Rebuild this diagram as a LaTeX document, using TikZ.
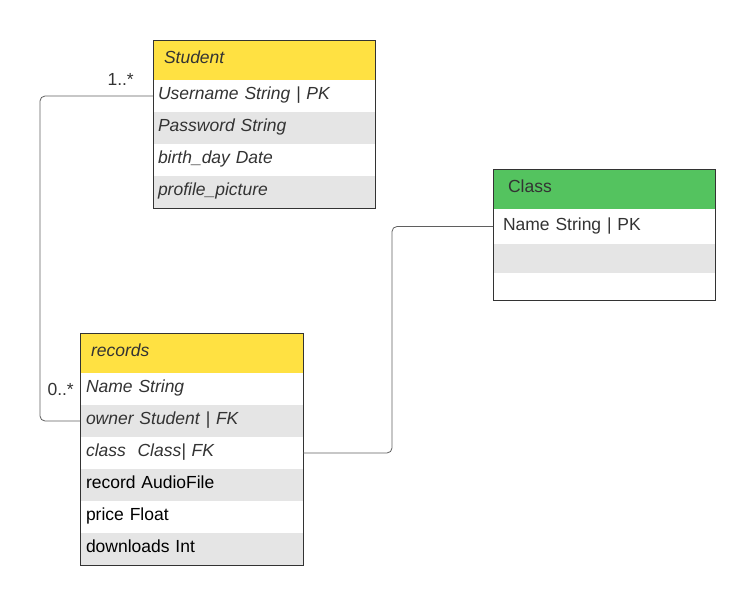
\documentclass[tikz,border=0pt]{standalone}
\usepackage{fontspec}
\setmainfont{Liberation Sans}
\usepackage{tikz}
\usetikzlibrary{positioning}
\definecolor{headyellow}{RGB}{255,225,66}
\definecolor{headgreen}{RGB}{84,195,95}
\definecolor{rowgray}{RGB}{229,229,229}
\definecolor{textdark}{RGB}{51,51,51}
\definecolor{linegray}{RGB}{95,95,95}

\begin{document}
\begin{tikzpicture}[
  x=1pt, y=1pt, node distance=0pt,
  tfont/.style={font=\fontsize{17.5pt}{21pt}\selectfont},
  field/.style={tfont, rectangle, minimum height=32pt, inner ysep=0pt, inner xsep=5pt, outer sep=0pt,
               text width=212pt, text height=12pt, text depth=5pt, align=left, text=textdark},
  cfield/.style={field, inner xsep=10pt, text width=202pt},
  head/.style={field, draw=textdark, line width=0.9pt, minimum height=40pt, anchor=north west},
  frame/.style={draw=textdark, line width=0.9pt},
  mult/.style={tfont, inner sep=0pt, text=textdark},
  link/.style={draw=linegray, line width=0.8pt, rounded corners=5pt}
]
\useasboundingbox (0,0) rectangle (755,-605);

% Student
\node[head, fill=headyellow, inner xsep=11pt, text width=200pt] (sh) at (153,-40) {\itshape Student};
\node[field, fill=white, below=of sh] (s1) {\itshape Username String | PK};
\node[field, fill=rowgray, below=of s1] (s2) {\itshape Password String};
\node[field, fill=white, below=of s2] (s3) {\itshape birth\_day Date};
\node[field, fill=rowgray, below=of s3] (s4) {\itshape profile\_picture};
\draw[frame] (sh.north west) rectangle (s4.south east);

% Class
\node[head, fill=headgreen, inner xsep=15pt, text width=192pt] (ch) at (493,-169) {Class};
\node[cfield, fill=white, minimum height=35pt, below=of ch] (c1) {Name String | PK};
\node[cfield, fill=rowgray, minimum height=29pt, below=of c1] (c2) {};
\node[cfield, fill=white, minimum height=27pt, below=of c2] (c3) {};
\draw[frame] (ch.north west) rectangle (c3.south east);

% records
\node[head, fill=headyellow, inner xsep=11pt, text width=201pt] (rh) at (80,-333) {\itshape records};
\node[field, fill=white, inner xsep=6pt, text width=211pt, below=of rh] (r1) {\itshape Name String};
\node[field, fill=rowgray, inner xsep=6pt, text width=211pt, below=of r1] (r2) {\itshape owner Student | FK};
\node[field, fill=white, inner xsep=6pt, text width=211pt, below=of r2] (r3) {\itshape class\ \ Class| FK};
\node[field, fill=rowgray, inner xsep=6pt, text width=211pt, text=black, below=of r3] (r4) {record AudioFile};
\node[field, fill=white, inner xsep=6pt, text width=211pt, text=black, below=of r4] (r5) {price Float};
\node[field, fill=rowgray, inner xsep=6pt, text width=211pt, text=black, below=of r5] (r6) {downloads Int};
\draw[frame] (rh.north west) rectangle (r6.south east);

% links
\draw[link] (s1.west) -- ++(-113,0) |- (r2.west);
\draw[link] (r3.east) -- ++(89,0) |- (c1.west);
\node[mult, above left=10pt and 19pt of s1.west] (m1) {1..*};
\node[mult, left=6pt of r1] (m2) {0..*};

\end{tikzpicture}
\end{document}
